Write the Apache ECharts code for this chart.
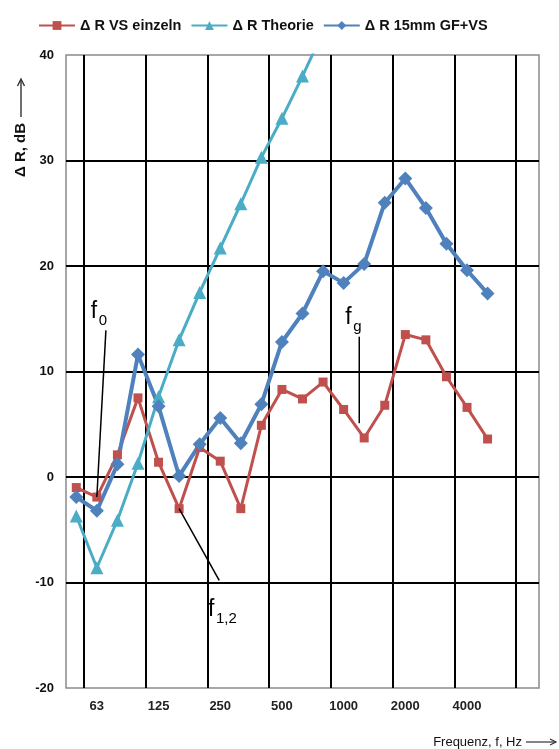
<!DOCTYPE html>
<html>
<head>
<meta charset="utf-8">
<script src="https://cdn.jsdelivr.net/npm/echarts@6/dist/echarts.min.js"></script>
<style>
  html, body { margin: 0; padding: 0; background: #fff; }
  #main { width: 559px; height: 749px; }
</style>
</head>
<body>
<div id="main"></div>
<script>
// Terzbänder 50 Hz ... 8000 Hz
var categories = ['50','63','80','100','125','160','200','250','315','400','500','630','800','1000','1250','1600','2000','2500','3150','4000','5000','6300','8000'];
var octaveLabels = ['63','125','250','500','1000','2000','4000'];
var yTicks = [-20, -10, 0, 10, 20, 30, 40];

var vsEinzeln = [-1.0, -1.9, 2.1, 7.5, 1.4, -3.0, 2.8, 1.5, -3.0, 4.9, 8.3, 7.4, 9.0, 6.4, 3.7, 6.8, 13.5, 13.0, 9.5, 6.6, 3.6];
var theorie   = [-3.7, -8.6, -4.1, 1.3, 7.6, 13.0, 17.5, 21.7, 25.9, 30.3, 34.0, 38.0, 42.2];
var gfvs      = [-1.9, -3.2, 1.2, 11.6, 6.7, 0.1, 3.1, 5.6, 3.2, 6.9, 12.8, 15.5, 19.5, 18.4, 20.2, 26.0, 28.3, 25.5, 22.1, 19.6, 17.4];

var seriesNames = ['\u0394 R VS einzeln', '\u0394 R Theorie', '\u0394 R 15mm GF+VS'];
var colors = ['#C0504D', '#4BACC6', '#4F81BD'];

var GL = 66, GR = 20, GT = 55, GB = 61;
var band = (559 - GL - GR) / categories.length;
var gridOffset = 0.88; // erste senkrechte Linie, in Terzbreiten vom linken Rand

var chart = echarts.init(document.getElementById('main'));

var option = {
    animation: false,
    color: colors,
    legend: {
        top: 13,
        left: 33,
        itemGap: 9,
        itemWidth: 36,
        itemHeight: 11,
        textStyle: { fontFamily: 'Liberation Sans, Arial', fontWeight: 'bold', fontSize: 14.5, color: '#111' },
        data: seriesNames
    },
    grid: [
        { left: GL, right: GR, top: GT, bottom: GB, show: true, borderColor: '#8a8a8a', borderWidth: 1.5, outerBoundsMode: 'none' },
        // nur für die senkrechten Gitterlinien
        { left: GL + gridOffset * band, right: GR, top: GT, bottom: GB, show: false, outerBoundsMode: 'none' }
    ],
    xAxis: [
        {
            type: 'category',
            gridIndex: 0,
            data: categories,
            boundaryGap: true,
            axisLine: { show: false },
            axisTick: { show: false },
            splitLine: { show: false },
            axisLabel: {
                interval: function (i, v) { return octaveLabels.indexOf(v) >= 0; },
                margin: 12,
                fontFamily: 'Liberation Sans, Arial',
                fontWeight: 'bold',
                fontSize: 13,
                color: '#222'
            }
        },
        {
            type: 'value',
            gridIndex: 1,
            min: 0,
            max: categories.length - gridOffset,
            interval: 3,
            axisLine: { show: false },
            axisTick: { show: false },
            axisLabel: { show: false },
            splitLine: { show: true, showMinLine: true, showMaxLine: false, lineStyle: { color: '#000', width: 2 } }
        }
    ],
    yAxis: [
        {
            type: 'value',
            gridIndex: 0,
            min: yTicks[0],
            max: yTicks[yTicks.length - 1],
            interval: 10,
            axisLine: { show: false },
            axisTick: { show: false },
            axisLabel: {
                margin: 12,
                fontFamily: 'Liberation Sans, Arial',
                fontWeight: 'bold',
                fontSize: 13,
                color: '#111'
            },
            splitLine: { show: true, showMinLine: false, showMaxLine: false, lineStyle: { color: '#000', width: 2 } }
        },
        {
            type: 'value', gridIndex: 1, min: yTicks[0], max: yTicks[yTicks.length - 1],
            axisLine: { show: false }, axisTick: { show: false }, axisLabel: { show: false }, splitLine: { show: false }
        }
    ],
    series: [
        {
            name: seriesNames[0], type: 'line', data: vsEinzeln,
            symbol: 'rect', symbolSize: 9, z: 3, showAllSymbol: true,
            lineStyle: { width: 3, color: colors[0] },
            itemStyle: { color: colors[0] }
        },
        {
            name: seriesNames[1], type: 'line', data: theorie,
            symbol: 'triangle', symbolSize: 13, z: 3, showAllSymbol: true,
            lineStyle: { width: 3, color: colors[1] },
            itemStyle: { color: colors[1] }
        },
        {
            name: seriesNames[2], type: 'line', data: gfvs,
            symbol: 'diamond', symbolSize: 14, z: 3, showAllSymbol: true,
            lineStyle: { width: 4, color: colors[2] },
            itemStyle: { color: colors[2] }
        }
    ]
};

chart.setOption(option);

// Datenkoordinaten [Terzindex (auch gebrochen), dB] -> Pixel
function px(p) {
    var i0 = Math.min(Math.floor(p[0]), categories.length - 2), t = p[0] - i0;
    var a = chart.convertToPixel({ xAxisIndex: 0, yAxisIndex: 0 }, [i0, p[1]]);
    var b = chart.convertToPixel({ xAxisIndex: 0, yAxisIndex: 0 }, [i0 + 1, p[1]]);
    return [a[0] + (b[0] - a[0]) * t, a[1]];
}

// Beschriftungen f0, fg, f1,2
var annoLines = [
    [[1.44, 13.9], [1, vsEinzeln[1]]],
    [[13.76, 13.3], [13.76, 5.1]],
    [[5, vsEinzeln[5]], [6.95, -9.8]]
];
var annoText = [
    { at: [0.70, 15.7], main: 'f', sub: '0' },
    { at: [13.08, 15.1], main: 'f', sub: 'g' },
    { at: [6.40, -12.6], main: 'f', sub: '1,2' }
];

var graphics = [];
annoLines.forEach(function (l) {
    var a = px(l[0]), b = px(l[1]);
    graphics.push({
        type: 'line', z: 50,
        shape: { x1: a[0], y1: a[1], x2: b[0], y2: b[1] },
        style: { stroke: '#000', lineWidth: 1.5 }
    });
});
annoText.forEach(function (t) {
    var p = px(t.at);
    graphics.push({
        type: 'text', z: 50, x: p[0], y: p[1],
        style: { text: t.main, fill: '#000', font: '23px "Liberation Sans", Arial', textVerticalAlign: 'middle' }
    });
    graphics.push({
        type: 'text', z: 50, x: p[0] + 8, y: p[1] + 9,
        style: { text: t.sub, fill: '#000', font: '15px "Liberation Sans", Arial', textVerticalAlign: 'middle' }
    });
});

// Achsentitel mit Pfeilen
graphics.push({
    type: 'text', x: 21, y: 150, rotation: Math.PI / 2,
    style: { text: '\u0394 R, dB', fill: '#111', font: 'bold 15px "Liberation Sans", Arial', textAlign: 'center', textVerticalAlign: 'middle' }
});
graphics.push({ type: 'line', shape: { x1: 21, y1: 117, x2: 21, y2: 80 }, style: { stroke: '#333', lineWidth: 1.4 } });
graphics.push({ type: 'polyline', shape: { points: [[17.5, 86], [21, 79], [24.5, 86]] }, style: { stroke: '#333', lineWidth: 1.4, fill: null } });

graphics.push({
    type: 'text', x: 522, y: 742,
    style: { text: 'Frequenz, f, Hz', fill: '#111', font: '13px "Liberation Sans", Arial', textAlign: 'right', textVerticalAlign: 'middle' }
});
graphics.push({ type: 'line', shape: { x1: 526, y1: 742, x2: 556, y2: 742 }, style: { stroke: '#333', lineWidth: 1.2 } });
graphics.push({ type: 'polyline', shape: { points: [[550, 739], [556, 742], [550, 745]] }, style: { stroke: '#333', lineWidth: 1.2, fill: null } });

chart.setOption({ graphic: graphics });
</script>
</body>
</html>
